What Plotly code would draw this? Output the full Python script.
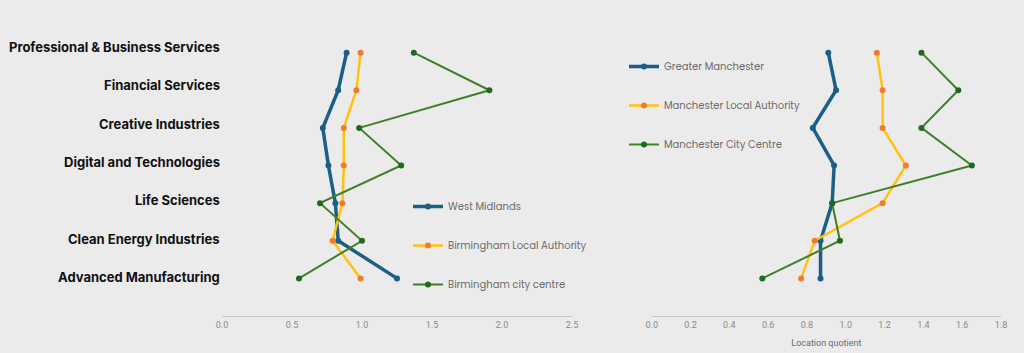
import plotly.graph_objects as go

categories = ["Advanced Manufacturing", "Clean Energy Industries", "Life Sciences",
              "Digital and Technologies", "Creative Industries", "Financial Services",
              "Professional & Business Services"]

west_midlands = [1.25, 0.83, 0.81, 0.76, 0.72, 0.83, 0.89]
birmingham_la = [0.99, 0.79, 0.86, 0.87, 0.87, 0.96, 0.99]
birmingham_cc = [0.55, 1.00, 0.70, 1.28, 0.98, 1.91, 1.37]

greater_manchester = [0.87, 0.87, 0.93, 0.94, 0.83, 0.95, 0.91]
manchester_la = [0.77, 0.84, 1.19, 1.31, 1.19, 1.19, 1.16]
manchester_cc = [0.57, 0.97, 0.93, 1.65, 1.39, 1.58, 1.39]

left_ticks = [0.0, 0.5, 1.0, 1.5, 2.0, 2.5]
right_ticks = [0.0, 0.2, 0.4, 0.6, 0.8, 1.0, 1.2, 1.4, 1.6, 1.8]

BLUE = "#1b5e86"
YELLOW = "#ffc20e"
ORANGE = "#ee7b30"
GREEN = "#3f7f28"
DGREEN = "#1d6b1d"
BG = "#ebebeb"

W, H = 1024, 353
ML, MR, MT, MB = 10, 10, 15, 37
PW = W - ML - MR
PH = H - MT - MB


def px_x(p):
    return (p - ML) / PW


def px_y(p):
    return (H - MB - p) / PH


idx = list(range(len(categories)))

fig = go.Figure()


def add(xvals, name, lc, mc, lw, xa, ya, leg, grp):
    fig.add_trace(go.Scatter(
        x=xvals, y=idx, name=name, mode="lines+markers",
        line=dict(color=lc, width=lw), marker=dict(color=mc, size=6),
        xaxis=xa, yaxis=ya, legend=leg, legendgroup=grp))


add(west_midlands, "West Midlands", BLUE, BLUE, 3.5, "x", "y", "legend", "a")
add(birmingham_la, "Birmingham Local Authority", YELLOW, ORANGE, 2.5, "x", "y", "legend", "b")
add(birmingham_cc, "Birmingham city centre", GREEN, DGREEN, 2, "x", "y", "legend", "c")
add(greater_manchester, "Greater Manchester", BLUE, BLUE, 3.5, "x2", "y2", "legend2", "d")
add(manchester_la, "Manchester Local Authority", YELLOW, ORANGE, 2.5, "x2", "y2", "legend2", "e")
add(manchester_cc, "Manchester City Centre", GREEN, DGREEN, 2, "x2", "y2", "legend2", "f")

tickfont = dict(family="Roboto, sans-serif", size=9, color="#8a8a8a")
xcommon = dict(showgrid=False, zeroline=False, showline=True, linecolor="#c9c9c9",
               linewidth=1, ticks="", tickfont=tickfont, fixedrange=True,
               automargin=False)

ycommon = dict(showgrid=False, zeroline=False, showline=False, showticklabels=False,
               range=[-1, 7], domain=[0, 1], fixedrange=True, automargin=False)

legfont = dict(family="Poppins, Open Sans, sans-serif", size=10, color="#6b6b6b")

fig.update_layout(
    width=W, height=H,
    paper_bgcolor=BG, plot_bgcolor=BG,
    margin=dict(l=ML, r=MR, t=MT, b=MB, autoexpand=False),
    xaxis=dict(domain=[px_x(222), px_x(572)], range=[0, 2.5], tickvals=left_ticks,
               tickformat=".1f", anchor="y", **xcommon),
    xaxis2=dict(domain=[px_x(651.7), px_x(1001)], range=[0, 1.8], tickvals=right_ticks,
                tickformat=".1f", anchor="y2",
                title=dict(text="Location quotient", standoff=10,
                           font=dict(family="Roboto, sans-serif", size=9, color="#6a6a6a")),
                **xcommon),
    yaxis=dict(anchor="x", **ycommon),
    yaxis2=dict(anchor="x2", **ycommon),
    legend=dict(x=px_x(408), y=px_y(192), xanchor="left", yanchor="top",
                bgcolor="rgba(0,0,0,0)", tracegroupgap=20, itemwidth=30, font=legfont),
    legend2=dict(x=px_x(624), y=px_y(52), xanchor="left", yanchor="top",
                 bgcolor="rgba(0,0,0,0)", tracegroupgap=20, itemwidth=30, font=legfont),
    showlegend=True,
)

# category labels at left of first panel
for i, c in enumerate(categories):
    fig.add_annotation(
        text=c, xref="paper", yref="paper", x=px_x(222), y=px_y(277 - i * 38.33),
        xanchor="right", yanchor="middle", showarrow=False,
        font=dict(family="Inter, sans-serif", size=13, color="#111111", weight=700))

fig.write_html("out.html")
